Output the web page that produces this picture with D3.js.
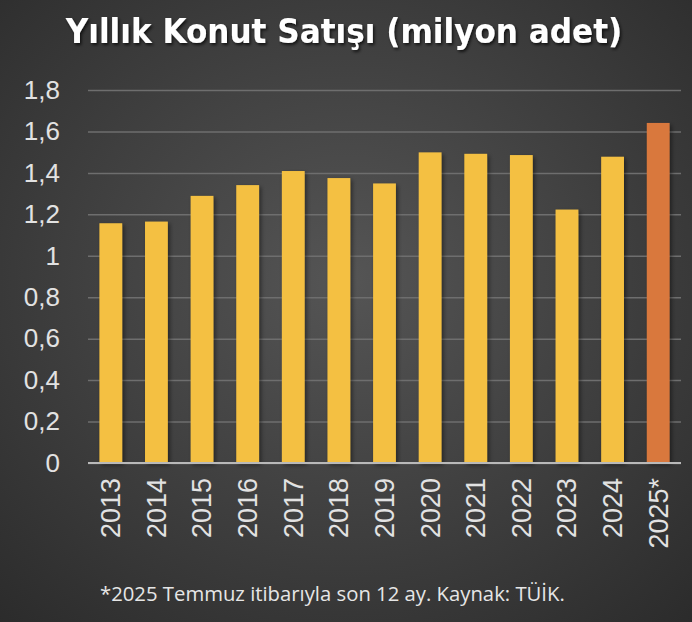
<!DOCTYPE html>
<html><head><meta charset="utf-8">
<script src="https://cdn.jsdelivr.net/npm/d3@7"></script>
<style>html,body{margin:0;padding:0;background:#3a3a3a;}svg{display:block;}</style>
</head><body>
<script>
const years = ["2013","2014","2015","2016","2017","2018","2019","2020","2021","2022","2023","2024","2025*"];
const sales = [1.157,1.165,1.289,1.341,1.409,1.375,1.349,1.499,1.492,1.486,1.223,1.478,1.641];
const yTicks = [0,0.2,0.4,0.6,0.8,1,1.2,1.4,1.6,1.8];
const title = "Yıllık Konut Satışı (milyon adet)";
const note = "*2025 Temmuz itibarıyla son 12 ay. Kaynak: TÜİK.";

const W = 692, H = 622;
const m = {left:88, right:11, top:90, bottom:159};
const svg = d3.select("body").append("svg").attr("width",W).attr("height",H);
const defs = svg.append("defs");
const rg = defs.append("radialGradient").attr("id","bg").attr("cx","50%").attr("cy","45%").attr("r","75%");
rg.append("stop").attr("offset","0%").attr("stop-color","#555555");
rg.append("stop").attr("offset","100%").attr("stop-color","#2b2b2b");
const f = defs.append("filter").attr("id","sh").attr("x","-20%").attr("y","-20%").attr("width","160%").attr("height","160%");
f.append("feDropShadow").attr("dx",2).attr("dy",2).attr("stdDeviation",2).attr("flood-color","#000").attr("flood-opacity",0.45);
const ft = defs.append("filter").attr("id","tsh").attr("x","-10%").attr("y","-30%").attr("width","120%").attr("height","160%");
ft.append("feDropShadow").attr("dx",1.5).attr("dy",2).attr("stdDeviation",1.5).attr("flood-color","#000").attr("flood-opacity",0.7);

svg.append("rect").attr("width",W).attr("height",H).attr("fill","url(#bg)");

const x = d3.scaleBand().domain(years).range([m.left, W-m.right]).paddingInner(0.5).paddingOuter(0.25);
const y = d3.scaleLinear().domain([0,1.8]).range([H-m.bottom, m.top]);

svg.append("text").attr("x",W/2-2).attr("y",43).attr("text-anchor","middle")
  .attr("font-family","DejaVu Sans Condensed, DejaVu Sans").attr("font-weight","bold").attr("font-size",34.6)
  .attr("fill","#fff").attr("filter","url(#tsh)").text(title);

const ya = svg.append("g").attr("transform",`translate(${m.left},0)`)
  .call(d3.axisLeft(y).tickValues(yTicks).tickSize(-(W-m.left-m.right)).tickPadding(28)
    .tickFormat(d => String(d).replace(".",",")));
ya.select(".domain").remove();
ya.selectAll(".tick line").attr("stroke","#6e6e6e").attr("stroke-width",1.5);
ya.selectAll(".tick text").attr("fill","#e2e2e2").attr("font-family","Liberation Sans, Arial").attr("font-size",26);

svg.append("g").selectAll("rect").data(sales).join("rect")
  .attr("x",(d,i)=>x(years[i])).attr("width",x.bandwidth())
  .attr("y",d=>y(d)).attr("height",d=>y(0)-y(d))
  .attr("fill",(d,i)=> i===years.length-1 ? "#D9783C" : "#F4C042")
  .attr("filter","url(#sh)");

svg.append("line").attr("x1",m.left).attr("x2",W-m.right).attr("y1",y(0)).attr("y2",y(0))
  .attr("stroke","#b9b9b9").attr("stroke-width",2);

const xa = svg.append("g").attr("transform",`translate(0,${y(0)})`)
  .call(d3.axisBottom(x).tickSize(0).tickPadding(0));
xa.select(".domain").remove();
xa.selectAll(".tick text").attr("fill","#e2e2e2").attr("font-family","Liberation Sans, Arial").attr("font-size",27)
  .attr("text-anchor","end").attr("dy","0.35em").attr("dx",0)
  .attr("transform","translate(0,15) rotate(-90)").attr("x",0).attr("y",0);

svg.append("text").attr("x",100).attr("y",601)
  .attr("font-family","Open Sans, Noto Sans").attr("font-size",20.3)
  .attr("fill","#e6e6e6").text(note);
</script>
</body></html>
